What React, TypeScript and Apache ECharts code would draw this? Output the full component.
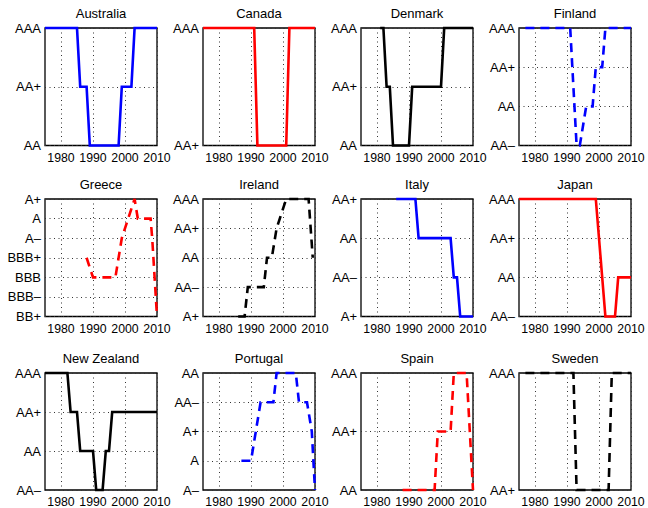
import React, { useEffect, useRef } from 'react';
import * as echarts from 'echarts';

// rating scale, lowest to highest
const RATINGS = ['BB+', 'BBB–', 'BBB', 'BBB+', 'A–', 'A', 'A+', 'AA–', 'AA', 'AA+', 'AAA'];
const X_MIN = 1975;
const X_MAX = 2010;
const X_TICKS = [1980, 1990, 2000, 2010];

const countries = ['Australia', 'Canada', 'Denmark', 'Finland', 'Greece', 'Ireland', 'Italy', 'Japan', 'New Zealand', 'Portugal', 'Spain', 'Sweden'];

const australia: [number, string][] = [[1975, 'AAA'], [1985, 'AAA'], [1986, 'AA+'], [1988, 'AA+'], [1989, 'AA'], [1998, 'AA'], [1999, 'AA+'], [2002, 'AA+'], [2003, 'AAA'], [2010, 'AAA']];
const canada: [number, string][] = [[1975, 'AAA'], [1991, 'AAA'], [1992, 'AA+'], [2001, 'AA+'], [2002, 'AAA'], [2010, 'AAA']];
const denmark: [number, string][] = [[1981, 'AAA'], [1982, 'AAA'], [1983, 'AA+'], [1984, 'AA+'], [1985, 'AA'], [1990, 'AA'], [1991, 'AA+'], [2000, 'AA+'], [2001, 'AAA'], [2010, 'AAA']];
const finland: [number, string][] = [[1977, 'AAA'], [1991, 'AAA'], [1993, 'AA–'], [1994, 'AA–'], [1996, 'AA'], [1998, 'AA'], [1999, 'AA+'], [2001, 'AA+'], [2002, 'AAA'], [2010, 'AAA']];
const greece: [number, string][] = [[1988, 'BBB+'], [1990, 'BBB'], [1997, 'BBB'], [1999, 'A–'], [2003, 'A+'], [2004, 'A'], [2008, 'A'], [2008.5, 'A–'], [2010, 'BB+']];
const ireland: [number, string][] = [[1986, 'A+'], [1988, 'A+'], [1989, 'AA–'], [1994, 'AA–'], [1995, 'AA'], [1996.5, 'AA'], [1998, 'AA+'], [2001, 'AAA'], [2008, 'AAA'], [2009.3, 'AA']];
const italy: [number, string][] = [[1986, 'AA+'], [1992, 'AA+'], [1993, 'AA'], [2003, 'AA'], [2004, 'AA–'], [2005, 'AA–'], [2006, 'A+'], [2010, 'A+']];
const japan: [number, string][] = [[1975, 'AAA'], [1999, 'AAA'], [2002, 'AA–'], [2005, 'AA–'], [2006, 'AA'], [2010, 'AA']];
const newZealand: [number, string][] = [[1975, 'AAA'], [1982, 'AAA'], [1983, 'AA+'], [1985, 'AA+'], [1986, 'AA'], [1990, 'AA'], [1991, 'AA–'], [1993, 'AA–'], [1994, 'AA'], [1995, 'AA'], [1996, 'AA+'], [2010, 'AA+']];
const portugal: [number, string][] = [[1987, 'A'], [1990, 'A'], [1993, 'AA–'], [1997, 'AA–'], [1998, 'AA'], [2004, 'AA'], [2005, 'AA–'], [2007.5, 'AA–'], [2009, 'A+'], [2010, 'A–']];
const spain: [number, string][] = [[1988, 'AA'], [1998, 'AA'], [1999, 'AA+'], [2003, 'AA+'], [2004, 'AAA'], [2008, 'AAA'], [2009, 'AA+'], [2010, 'AA']];
const sweden: [number, string][] = [[1977, 'AAA'], [1992, 'AAA'], [1993, 'AA+'], [2003, 'AA+'], [2004, 'AAA'], [2010, 'AAA']];

const seriesData = [australia, canada, denmark, finland, greece, ireland, italy, japan, newZealand, portugal, spain, sweden];

// y range of each panel [lowest, highest]
const yRanges: [string, string][] = [
  ['AA', 'AAA'], ['AA+', 'AAA'], ['AA', 'AAA'], ['AA–', 'AAA'],
  ['BB+', 'A+'], ['A+', 'AAA'], ['A+', 'AA+'], ['AA–', 'AAA'],
  ['AA–', 'AAA'], ['A–', 'AA'], ['AA', 'AAA'], ['AA+', 'AAA'],
];

const colors = ['#0000ff', '#ff0000', '#000000', '#0000ff', '#ff0000', '#000000', '#0000ff', '#ff0000', '#000000', '#0000ff', '#ff0000', '#000000'];
const dashed = [false, false, false, true, true, true, false, false, false, true, true, true];

const COL_LEFT = [45, 203, 361, 519];
const ROW_TOP = [28, 199, 373];
const PANEL_W = 112;
const PANEL_H = 117.5;
const FONT = '"Liberation Sans", Arial, Helvetica, sans-serif';

export default function App() {
  const ref = useRef<HTMLDivElement>(null);
  useEffect(() => {
    if (!ref.current) return;
    const chart = echarts.init(ref.current, undefined, { renderer: 'svg' });
    const grids: any[] = [];
    const xAxes: any[] = [];
    const yAxes: any[] = [];
    const series: any[] = [];
    const graphics: any[] = [];
    const idx = (r: string) => RATINGS.indexOf(r);
    countries.forEach((name, i) => {
      const col = i % 4;
      const row = Math.floor(i / 4);
      const left = COL_LEFT[col];
      const top = ROW_TOP[row];
      grids.push({
        left, top, width: PANEL_W, height: PANEL_H,
        show: true, borderColor: '#000', borderWidth: 1.3, backgroundColor: 'transparent',
      });
      xAxes.push({
        type: 'value', gridIndex: i, min: X_MIN, max: X_MAX,
        axisLine: { show: false },
        axisTick: { show: false, customValues: X_TICKS },
        axisLabel: { customValues: X_TICKS, color: '#000', fontSize: 12.3, fontFamily: FONT, margin: 6, formatter: (v: number) => String(v) },
        splitLine: { show: true, lineStyle: { color: '#333', width: 1, type: [1, 3.5] } },
      });
      const [lo, hi] = yRanges[i];
      yAxes.push({
        type: 'value', gridIndex: i, min: idx(lo), max: idx(hi), interval: 1,
        axisLine: { show: false },
        axisTick: { show: false },
        axisLabel: { color: '#000', fontSize: 13, fontFamily: FONT, margin: 4, formatter: (v: number) => RATINGS[Math.round(v)] },
        splitLine: { show: true, lineStyle: { color: '#333', width: 1, type: [1, 3.5] } },
      });
      series.push({
        type: 'line', xAxisIndex: i, yAxisIndex: i,
        data: seriesData[i].map(([y, r]) => [y, idx(r)]),
        showSymbol: false, symbol: 'none', clip: false, silent: true, z: 5,
        lineStyle: { color: colors[i], width: 2.6, type: dashed[i] ? [9, 6] : 'solid', cap: 'butt', join: 'miter' },
      });
      graphics.push({
        type: 'text', x: left + PANEL_W / 2, y: top - 15,
        style: { text: name, textAlign: 'center', textVerticalAlign: 'middle', font: `13px ${FONT}`, fill: '#000' },
      });
    });
    chart.setOption({
      animation: false,
      backgroundColor: '#fff',
      grid: grids,
      xAxis: xAxes,
      yAxis: yAxes,
      series,
      graphic: graphics,
    });
    return () => chart.dispose();
  }, []);
  return <div ref={ref} style={{ position: 'fixed', left: 0, top: 0, width: 648, height: 508 }} />;
}
